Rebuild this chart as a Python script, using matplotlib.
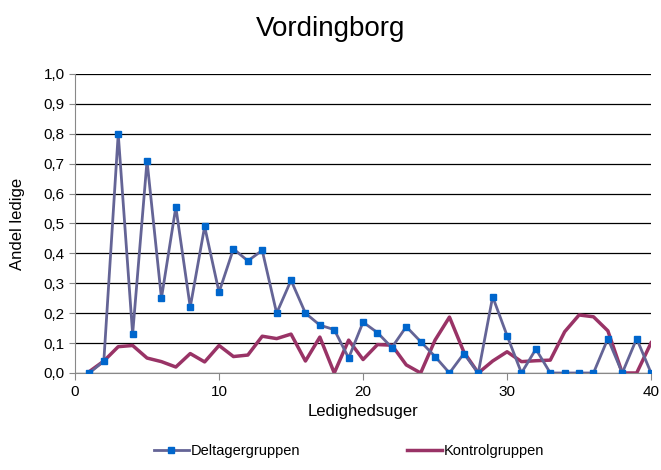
import numpy as np
import matplotlib.pyplot as plt
from matplotlib.ticker import FuncFormatter

plt.rcParams['font.family'] = ['Liberation Sans', 'DejaVu Sans']

weeks = list(range(1, 41))
deltager = [0.0, 0.04, 0.80, 0.13, 0.71, 0.25, 0.555, 0.22, 0.49, 0.27,
            0.415, 0.375, 0.41, 0.20, 0.31, 0.20, 0.16, 0.145, 0.05, 0.17,
            0.135, 0.085, 0.155, 0.105, 0.055, 0.0, 0.065, 0.0, 0.255, 0.125,
            0.0, 0.08, 0.0, 0.0, 0.0, 0.0, 0.115, 0.0, 0.115, 0.0]
kontrol = [0.005, 0.04, 0.088, 0.092, 0.05, 0.038, 0.02, 0.065, 0.037, 0.092,
           0.055, 0.06, 0.123, 0.115, 0.13, 0.04, 0.12, 0.0, 0.11, 0.045,
           0.095, 0.093, 0.027, 0.0, 0.11, 0.187, 0.07, 0.0, 0.04, 0.071,
           0.038, 0.041, 0.043, 0.138, 0.194, 0.188, 0.141, 0.0, 0.0, 0.101]

fig = plt.figure(figsize=(6.61, 4.70), dpi=100)
ax = fig.add_axes([0.1135, 0.2064, 0.8715, 0.6362])

ax.plot(weeks, deltager, color='#646496', lw=2, marker='s', markersize=4.8,
        markerfacecolor='#0066CC', markeredgecolor='#0066CC', label='Deltagergruppen',
        zorder=3)
ax.plot(weeks, kontrol, color='#993366', lw=2.5, label='Kontrolgruppen', zorder=2)

ax.set_xlim(0, 40)
ax.set_ylim(0, 1.0)
ax.set_xticks([0, 10, 20, 30, 40])
ax.set_yticks(np.arange(0, 1.01, 0.1))
ax.yaxis.set_major_formatter(FuncFormatter(lambda v, p: f'{v:.1f}'.replace('.', ',')))
ax.grid(axis='y', color='black', lw=0.9)
ax.set_axisbelow(True)
for s in ['top', 'right']:
    ax.spines[s].set_visible(False)
for s in ['left', 'bottom']:
    ax.spines[s].set_color('#888888')
ax.tick_params(axis='both', colors='#888888', labelcolor='black', labelsize=11,
               direction='out', length=5)
ax.tick_params(axis='y', length=4)

ax.set_xlabel('Ledighedsuger', fontsize=12, labelpad=4)
ax.set_ylabel('Andel ledige', fontsize=12, labelpad=13)
fig.suptitle('Vordingborg', fontsize=20, y=0.965)

fig.legend(loc='lower center', ncol=2, frameon=False, fontsize=10.5,
           bbox_to_anchor=(0.528, -0.003), columnspacing=7.3, handlelength=2.4,
           handletextpad=0.15)

fig.savefig('out.png', dpi=100)
